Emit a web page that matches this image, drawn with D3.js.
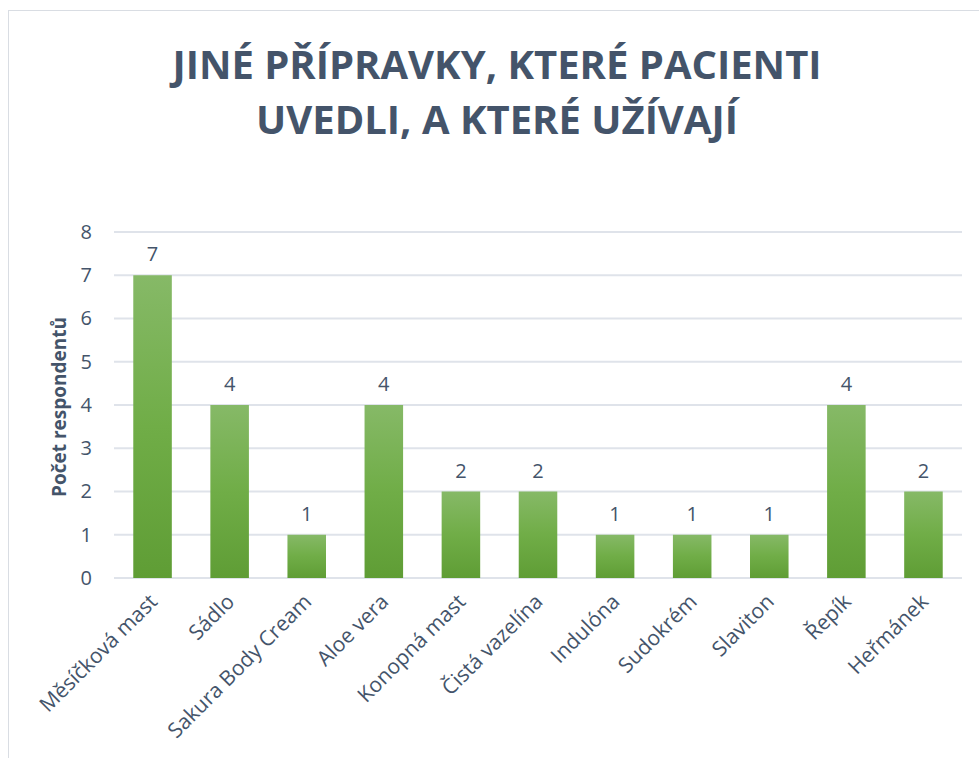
<!DOCTYPE html>
<html>
<head>
<meta charset="utf-8">
<script src="https://cdn.jsdelivr.net/npm/d3@7"></script>
<style>
  body { margin: 0; background: #fff; }
  svg text { font-family: "Open Sans", "Noto Sans", sans-serif; }
</style>
</head>
<body>
<svg id="chart" width="979" height="758"></svg>
<script>
// data
const categories = ['Měsíčková mast', 'Sádlo', 'Sakura Body Cream', 'Aloe vera', 'Konopná mast',
    'Čistá vazelína', 'Indulóna', 'Sudokrém', 'Slaviton', 'Řepík', 'Heřmánek']
const counts = [7, 4, 1, 4, 2, 2, 1, 1, 1, 4, 2]
const yTicks = [0, 1, 2, 3, 4, 5, 6, 7, 8]
const titleLines = ['JINÉ PŘÍPRAVKY, KTERÉ PACIENTI', 'UVEDLI, A KTERÉ UŽÍVAJÍ']
const yLabel = 'Počet respondentů'

const textColor = '#44546a'

let svg = d3.select('#chart'),
    margin = { left: 114, right: 17, top: 232, bottom: 180 },
    width = +svg.attr('width'),
    height = +svg.attr('height')

// outer chart border
svg.append('rect')
    .attr('x', 8.5).attr('y', 10.5)
    .attr('width', 990).attr('height', 760)
    .attr('fill', 'none')
    .attr('stroke', '#d9dde3')
    .attr('stroke-width', 1)

// gradient for bars
let defs = svg.append('defs')
let grad = defs.append('linearGradient')
    .attr('id', 'barGrad')
    .attr('x1', 0).attr('y1', 0).attr('x2', 0).attr('y2', 1)
grad.append('stop').attr('offset', '0%').attr('stop-color', '#86b967')
grad.append('stop').attr('offset', '50%').attr('stop-color', '#70ad47')
grad.append('stop').attr('offset', '100%').attr('stop-color', '#5f9d35')

let x = d3.scaleBand()
    .domain(categories)
    .range([margin.left, width - margin.right])
    .paddingInner(0.5)
    .paddingOuter(0.25)

let y = d3.scaleLinear()
    .domain([0, 8])
    .range([578, margin.top])

// title
svg.append('text')
    .attr('text-anchor', 'middle')
    .attr('fill', textColor)
    .style('font-family', '"Liberation Sans Narrow", "Open Sans", sans-serif')
    .style('font-weight', 'bold')
    .style('font-size', '40px')
    .selectAll('tspan')
    .data(titleLines)
    .enter().append('tspan')
    .attr('x', 497)
    .attr('y', function (d, i) { return 79 + i * 55 })
    .text(function (d) { return d })

// gridlines
svg.append('g')
    .selectAll('line')
    .data(yTicks)
    .enter().append('line')
    .attr('x1', margin.left)
    .attr('x2', width - margin.right)
    .attr('y1', function (d) { return y(d) })
    .attr('y2', function (d) { return y(d) })
    .attr('stroke', '#dfe3ea')
    .attr('stroke-width', 2)

// y axis
let yAxis = svg.append('g')
    .attr('transform', 'translate(' + margin.left + ',0)')
    .call(d3.axisLeft(y).tickValues(yTicks).tickSize(0).tickPadding(22))
yAxis.select('.domain').remove()
yAxis.selectAll('text')
    .attr('fill', textColor)
    .style('font-size', '20px')

// y label
svg.append('text')
    .attr('transform', 'translate(66,' + (y(4) + 2) + ') rotate(-90)')
    .attr('text-anchor', 'middle')
    .attr('fill', textColor)
    .style('font-weight', 'bold')
    .style('font-size', '19px')
    .text(yLabel)

// bars
svg.append('g')
    .selectAll('rect')
    .data(counts)
    .enter().append('rect')
    .attr('x', function (d, i) { return x(categories[i]) })
    .attr('y', function (d) { return y(d) })
    .attr('width', x.bandwidth())
    .attr('height', function (d) { return y(0) - y(d) })
    .attr('fill', 'url(#barGrad)')

// value labels
svg.append('g')
    .selectAll('text')
    .data(counts)
    .enter().append('text')
    .attr('x', function (d, i) { return x(categories[i]) + x.bandwidth() / 2 })
    .attr('y', function (d) { return y(d) - 14 })
    .attr('text-anchor', 'middle')
    .attr('fill', textColor)
    .style('font-size', '20px')
    .text(function (d) { return d })

// x labels
svg.append('g')
    .selectAll('text')
    .data(categories)
    .enter().append('text')
    .attr('transform', function (d) {
        let cx = x(d) + x.bandwidth() / 2 + 6
        return 'translate(' + cx + ',603) rotate(-45)'
    })
    .attr('text-anchor', 'end')
    .attr('fill', textColor)
    .style('font-size', '21px')
    .text(function (d) { return d })
</script>
</body>
</html>
